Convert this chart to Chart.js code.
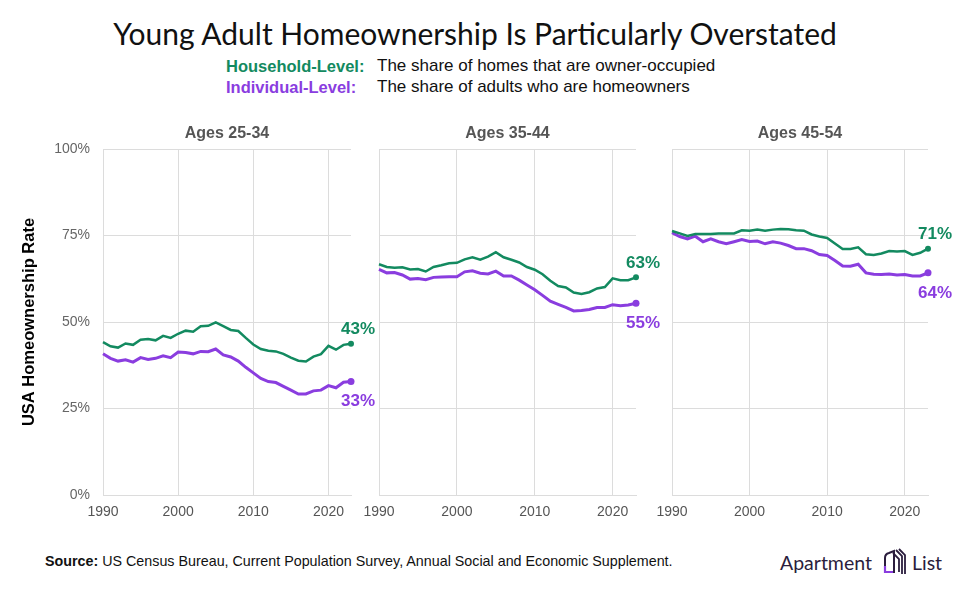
<!DOCTYPE html>
<html>
<head>
<meta charset="utf-8">
<script src="https://cdn.jsdelivr.net/npm/chart.js@4.4.1/dist/chart.umd.min.js"></script>
<style>
  html, body { margin: 0; padding: 0; background: #fff; }
  body { width: 980px; height: 602px; position: relative; overflow: hidden; font-family: "Liberation Sans", Arial, sans-serif; }
  .title { position: absolute; left: 0; width: 950px; top: 15px; text-align: center; font-family: Lato, "Noto Sans", sans-serif; font-size: 30px; color: #111; }
  .leg { position: absolute; line-height: 20px; }
  .leg b { position: absolute; left: 0; white-space: nowrap; font-size: 16.5px; }
  .leg span { position: absolute; left: 151px; white-space: nowrap; color: #111; font-size: 17px; }
  .panel { position: absolute; top: 110px; height: 420px; }
  .source { position: absolute; left: 45px; top: 553px; font-size: 14.3px; color: #111; white-space: nowrap; }
  .logo { position: absolute; left: 780px; top: 548px; display: flex; align-items: center; color: #2b1d3d; font-family: Lato, sans-serif; font-size: 19.5px; white-space: nowrap; }
  .logo svg { margin: 0 4px 0 10px; }
</style>
</head>
<body>
<div class="title">Young Adult Homeownership Is Particularly Overstated</div>
<div class="leg" style="left:226px; top:56px;"><b style="color:#138a60">Household-Level:</b><span>The share of homes that are owner-occupied</span></div>
<div class="leg" style="left:226px; top:77px;"><b style="color:#8a3ddf">Individual-Level:</b><span>The share of adults who are homeowners</span></div>

<div class="panel" style="left:0; width:380px;"><canvas id="p1"></canvas></div>
<div class="panel" style="left:349px; width:321px;"><canvas id="p2"></canvas></div>
<div class="panel" style="left:642px; width:338px;"><canvas id="p3"></canvas></div>

<div class="source"><b>Source:</b> US Census Bureau, Current Population Survey, Annual Social and Economic Supplement.</div>
<div class="logo">Apartment<svg width="26" height="28" viewBox="0 0 26 28">
  <path d="M3 10 Q3 6 7 5 L12 3 L12 24 L3 24 Z" fill="none" stroke="#2b1d3d" stroke-width="2"/>
  <path d="M3 18 L3 24 L11 24" fill="none" stroke="#8a3ddf" stroke-width="2.2"/>
  <path d="M14 2 L20 8 L20 26 M17 1 L23 7 L23 26 M11 5 L17 11 L17 24" fill="none" stroke="#2b1d3d" stroke-width="1.8"/>
</svg>List</div>

<script>
const years = [1990, 1991, 1992, 1993, 1994, 1995, 1996, 1997, 1998, 1999,
               2000, 2001, 2002, 2003, 2004, 2005, 2006, 2007, 2008, 2009,
               2010, 2011, 2012, 2013, 2014, 2015, 2016, 2017, 2018, 2019,
               2020, 2021, 2022, 2023];

// Ages 25-34
const household2534 = [44.2, 43.0, 42.6, 43.8, 43.4, 44.9, 45.1, 44.7, 46.0, 45.4,
                       46.6, 47.5, 47.2, 48.8, 48.9, 49.9, 48.8, 47.7, 47.4, 45.4,
                       43.5, 42.2, 41.7, 41.5, 40.8, 39.7, 38.8, 38.6, 40.0, 40.7,
                       43.1, 42.0, 43.4, 43.7];
const individual2534 = [40.8, 39.5, 38.7, 39.1, 38.4, 39.7, 39.2, 39.5, 40.2, 39.7,
                        41.3, 41.2, 40.8, 41.5, 41.4, 42.2, 40.5, 39.9, 38.7, 36.9,
                        35.3, 33.7, 32.8, 32.5, 31.4, 30.3, 29.2, 29.2, 30.1, 30.3,
                        31.6, 31.0, 32.6, 32.8];
const endLabels2534 = ['43%', '33%'];

// Ages 35-44
const household3544 = [66.7, 65.9, 65.7, 65.8, 65.2, 65.3, 64.6, 65.9, 66.4, 67.0,
                       67.1, 68.1, 68.7, 68.0, 68.9, 70.2, 68.7, 68.0, 67.2, 65.9,
                       65.1, 63.8, 61.9, 60.4, 60.0, 58.5, 58.1, 58.6, 59.7, 60.1,
                       62.6, 62.1, 62.1, 62.9];
const individual3544 = [65.2, 64.2, 64.3, 63.6, 62.4, 62.6, 62.2, 62.9, 63.0, 63.1,
                        63.1, 64.5, 64.8, 64.1, 63.9, 64.7, 63.3, 63.3, 62.1, 60.7,
                        59.3, 57.7, 56.0, 55.1, 54.2, 53.2, 53.3, 53.6, 54.2, 54.2,
                        55.0, 54.7, 54.9, 55.4];
const endLabels3544 = ['63%', '55%'];

// Ages 45-54
const household4554 = [76.3, 75.6, 74.9, 75.4, 75.4, 75.4, 75.6, 75.6, 75.6, 76.5,
                       76.4, 76.7, 76.4, 76.7, 76.9, 76.8, 76.5, 76.4, 75.3, 74.7,
                       74.3, 72.7, 71.1, 71.1, 71.6, 69.6, 69.4, 69.8, 70.5, 70.4,
                       70.5, 69.4, 70.0, 71.2];
const individual4554 = [75.8, 74.7, 74.0, 74.8, 73.2, 74.0, 73.2, 72.6, 73.2, 73.8,
                        73.3, 73.4, 72.6, 73.2, 72.8, 72.1, 71.2, 71.2, 70.6, 69.5,
                        69.2, 67.8, 66.2, 66.1, 66.7, 64.2, 63.8, 63.7, 63.9, 63.6,
                        63.7, 63.3, 63.3, 64.2];
const endLabels4554 = ['71%', '64%'];

const xTicks = [1990, 2000, 2010, 2020];
const yTicks = [0, 25, 50, 75, 100];

const GREEN = '#138a60';
const PURPLE = '#8a3ddf';
const GRID = '#dcdcdc';

Chart.defaults.font.family = '"Liberation Sans", Arial, sans-serif';
Chart.defaults.animation = false;

// panel title over the plot area + value labels at the line ends
const panelDecor = {
    id: 'panelDecor',
    afterDatasetsDraw(chart, args, opts) {
        const ctx = chart.ctx;
        const area = chart.chartArea;
        ctx.save();
        ctx.textAlign = 'center';
        ctx.textBaseline = 'middle';
        ctx.fillStyle = '#555';
        ctx.font = 'bold 16px "Liberation Sans", Arial, sans-serif';
        ctx.fillText(opts.title, (area.left + area.right) / 2, 24);

        ctx.font = 'bold 17px "Liberation Sans", Arial, sans-serif';
        chart.data.datasets.forEach((ds, i) => {
            const pts = chart.getDatasetMeta(i).data;
            const last = pts[pts.length - 1];
            ctx.fillStyle = ds.borderColor;
            const dy = i === 0 ? -14 : 20;
            ctx.fillText(opts.labels[i], last.x + 7, last.y + dy);
        });
        ctx.restore();
    }
};

function series(vals) {
    return vals.map((v, i) => ({ x: years[i], y: v }));
}

function makePanel(id, title, household, individual, labels, yWidth, padRight, showY) {
    const lastIdx = years.length - 1;
    new Chart(document.getElementById(id), {
        type: 'line',
        data: {
            datasets: [
                { label: 'Household-Level', data: series(household), borderColor: GREEN, backgroundColor: GREEN,
                  borderWidth: 2.5, pointRadius: c => c.dataIndex === lastIdx ? 3 : 0, pointBorderWidth: 0,
                  tension: 0, clip: false },
                { label: 'Individual-Level', data: series(individual), borderColor: PURPLE, backgroundColor: PURPLE,
                  borderWidth: 3, pointRadius: c => c.dataIndex === lastIdx ? 3.5 : 0, pointBorderWidth: 0,
                  tension: 0, clip: false }
            ]
        },
        options: {
            responsive: true,
            maintainAspectRatio: false,
            layout: { padding: { top: 39, right: padRight, left: 0, bottom: 0 } },
            plugins: {
                legend: { display: false },
                tooltip: { enabled: false },
                panelDecor: { title: title, labels: labels }
            },
            scales: {
                x: {
                    type: 'linear', min: 1990, max: 2023,
                    afterBuildTicks: s => { s.ticks = xTicks.map(v => ({ value: v })); },
                    afterFit: s => { s.height = 35; },
                    grid: { color: GRID, drawTicks: false },
                    border: { color: GRID },
                    ticks: { padding: 9, color: '#555', font: { size: 14 }, maxRotation: 0, autoSkip: false,
                             callback: v => String(v) }
                },
                y: {
                    min: 0, max: 100,
                    afterBuildTicks: s => { s.ticks = yTicks.map(v => ({ value: v })); },
                    afterFit: s => { s.width = yWidth; },
                    grid: { color: GRID, drawTicks: false },
                    border: { color: GRID },
                    ticks: { display: showY, padding: 13, color: '#666', font: { size: 14 }, callback: v => v + '%' },
                    title: { display: showY, text: 'USA Homeownership Rate', color: '#000',
                             font: { size: 16.5, weight: 'bold' }, padding: { top: 20, bottom: 0 } }
                }
            }
        },
        plugins: [panelDecor]
    });
}

makePanel('p1', 'Ages 25-34', household2534, individual2534, endLabels2534, 103, 29, true);
makePanel('p2', 'Ages 35-44', household3544, individual3544, endLabels3544, 30, 34, false);
makePanel('p3', 'Ages 45-54', household4554, individual4554, endLabels4554, 30, 52, false);
</script>
</body>
</html>
